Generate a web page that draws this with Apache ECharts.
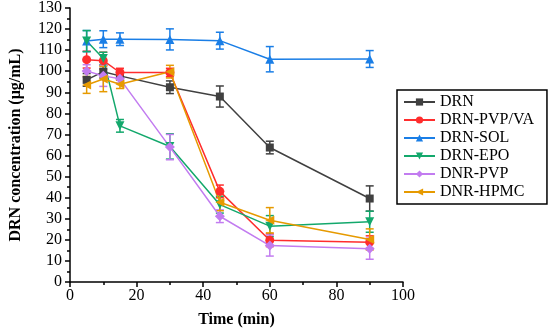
<!DOCTYPE html>
<html><head><meta charset="utf-8">
<script src="https://cdn.jsdelivr.net/npm/echarts@6/dist/echarts.min.js"></script>
<style>html,body{margin:0;padding:0;background:#fff}#c{width:550px;height:333px}</style>
</head><body><div id="c"></div>
<script>
var times = [5, 10, 15, 30, 45, 60, 90];
var seriesNames = ['DRN', 'DRN-PVP/VA', 'DRN-SOL', 'DRN-EPO', 'DNR-PVP', 'DNR-HPMC'];
var drn = [95.9, 99.8, 97.8, 92.4, 88.0, 63.8, 39.6];
var drnErr = [3, 3, 2, 3, 5, 3, 6];
var pvpva = [105.5, 105.0, 99.4, 99.4, 43.0, 19.8, 18.9];
var pvpvaErr = [4, 4, 2, 2, 3, 3, 3];
var sol = [114.3, 115.2, 115.2, 115.1, 114.5, 105.7, 105.8];
var solErr = [5, 4, 3, 5, 4, 6, 4];
var epo = [114.3, 106.0, 74.1, 64.3, 36.7, 26.5, 28.6];
var epoErr = [5, 3, 3, 6, 4, 5, 5];
var pvp = [100.1, 97.8, 96.4, 64.0, 31.2, 17.3, 15.8];
var pvpErr = [3, 5, 2, 6, 3, 5, 5];
var hpmc = [93.5, 96.3, 93.8, 99.8, 37.8, 29.3, 20.2];
var hpmcErr = [4, 6, 2, 3, 4, 6, 5];
var xTicks = [0, 20, 40, 60, 80, 100];
var yTicks = [0, 10, 20, 30, 40, 50, 60, 70, 80, 90, 100, 110, 120, 130];

var values = [drn, pvpva, sol, epo, pvp, hpmc];
var errs = [drnErr, pvpvaErr, solErr, epoErr, pvpErr, hpmcErr];
var colors = ['#404040', '#ff2d2d', '#1a7ee6', '#13a86c', '#c27cf0', '#e69a00'];
var symbols = ['rect', 'circle', 'triangle', 'path://M0,0 L10,0 L5,9 Z', 'diamond', 'path://M0,5 L9,0 L9,10 Z'];
var sizes = [8, 9, 9, 9, 10, 9];
var font = 'Liberation Serif';

var series = [];
for (var i = 0; i < seriesNames.length; i++) {
  (function(i){
    series.push({
      name: seriesNames[i] + ' error', type: 'custom', z: 2,
      data: times.map(function(t, k){ return [t, values[i][k], errs[i][k]]; }),
      renderItem: function(params, api) {
        var x = api.value(0), y = api.value(1), e = api.value(2);
        var top = api.coord([x, y + e]), bot = api.coord([x, y - e]);
        var w = 4;
        var st = {stroke: colors[i], lineWidth: 1.5};
        return {type: 'group', children: [
          {type: 'line', shape: {x1: top[0], y1: top[1], x2: bot[0], y2: bot[1]}, style: st},
          {type: 'line', shape: {x1: top[0]-w, y1: top[1], x2: top[0]+w, y2: top[1]}, style: st},
          {type: 'line', shape: {x1: bot[0]-w, y1: bot[1], x2: bot[0]+w, y2: bot[1]}, style: st}
        ]};
      }
    });
    series.push({
      name: seriesNames[i], type: 'line', z: 3,
      data: times.map(function(t, k){ return [t, values[i][k]]; }),
      symbol: symbols[i], symbolSize: sizes[i], showAllSymbol: true,
      lineStyle: {color: colors[i], width: 1.5},
      itemStyle: {color: colors[i]}
    });
  })(i);
}

var chart = echarts.init(document.getElementById('c'), null, {renderer: 'canvas'});
chart.setOption({
  animation: false,
  color: colors,
  grid: {left: 69, right: 147, top: 8, bottom: 50, containLabel: false},
  legend: {
    data: seriesNames,
    orient: 'vertical', left: 397, top: 90, width: 140,
    borderColor: '#000', borderWidth: 1.5, padding: [4, 13, 4, 6],
    itemWidth: 31, itemHeight: 9, itemGap: 2,
    textStyle: {fontFamily: font, fontSize: 16, lineHeight: 16, color: '#000'},
    backgroundColor: '#fff'
  },
  xAxis: {
    type: 'value', min: 0, max: 100, interval: 20,
    name: 'Time (min)', nameLocation: 'middle', nameGap: 30,
    nameTextStyle: {fontFamily: font, fontSize: 16, fontWeight: 'bold', color: '#000'},
    axisLine: {lineStyle: {color: '#000', width: 1.5}},
    axisTick: {length: 5, lineStyle: {color: '#000', width: 1.5}},
    minorTick: {show: true, splitNumber: 2, length: 3, lineStyle: {color: '#000', width: 1.5}},
    splitLine: {show: false},
    axisLabel: {fontFamily: font, fontSize: 16, color: '#000', margin: 6,
      formatter: function(v){ return xTicks.indexOf(v) >= 0 ? String(v) : ''; }}
  },
  yAxis: {
    type: 'value', min: 0, max: 130, interval: 10,
    name: 'DRN concentration (μg/mL)', nameLocation: 'middle', nameGap: 46,
    nameTextStyle: {fontFamily: font, fontSize: 16, fontWeight: 'bold', color: '#000'},
    axisLine: {show: true, lineStyle: {color: '#000', width: 1.5}},
    axisTick: {show: true, length: 5, lineStyle: {color: '#000', width: 1.5}},
    minorTick: {show: true, splitNumber: 2, length: 3, lineStyle: {color: '#000', width: 1.5}},
    splitLine: {show: false},
    axisLabel: {fontFamily: font, fontSize: 16, color: '#000', margin: 8,
      formatter: function(v){ return yTicks.indexOf(v) >= 0 ? String(v) : ''; }}
  },
  series: series
});
</script></body></html>
